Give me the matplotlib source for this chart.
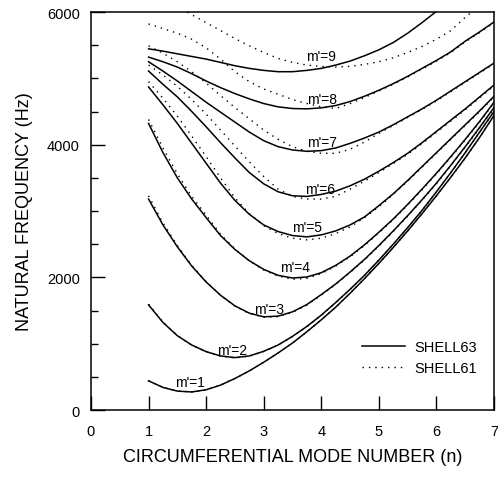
import matplotlib
matplotlib.use('Agg')
import matplotlib.pyplot as plt
from matplotlib.ticker import MultipleLocator

plt.rcParams['font.family'] = ['Liberation Sans', 'DejaVu Sans']

# circumferential mode number (n), read every quarter step
n = [1, 1.25, 1.5, 1.75, 2, 2.25, 2.5, 2.75, 3, 3.25, 3.5, 3.75, 4,
     4.25, 4.5, 4.75, 5, 5.25, 5.5, 5.75, 6, 6.25, 6.5, 6.75, 7]

# SHELL63 (solid) natural frequency, Hz
s63_m1 = [440, 340, 285, 272, 305, 375, 475, 590, 720, 860, 1010, 1180, 1360,
          1550, 1760, 1980, 2210, 2450, 2700, 2960, 3230, 3510, 3800, 4110, 4440]
s63_m2 = [1585, 1320, 1120, 980, 880, 815, 790, 815, 885, 980, 1110, 1260, 1430,
          1620, 1820, 2030, 2260, 2500, 2750, 3010, 3290, 3580, 3880, 4190, 4500]
s63_m3 = [3180, 2790, 2460, 2170, 1930, 1730, 1570, 1460, 1405, 1415, 1480, 1590, 1740,
          1900, 2080, 2270, 2480, 2700, 2930, 3170, 3420, 3690, 3970, 4260, 4560]
s63_m4 = [4320, 3880, 3500, 3180, 2900, 2630, 2420, 2250, 2120, 2030, 1990, 2005, 2070,
          2180, 2320, 2490, 2680, 2880, 3100, 3330, 3570, 3820, 4080, 4350, 4640]
s63_m5 = [4870, 4600, 4320, 4020, 3720, 3420, 3160, 2950, 2790, 2690, 2630, 2610, 2640,
          2700, 2790, 2910, 3080, 3260, 3460, 3670, 3880, 4090, 4300, 4510, 4730]
s63_m6 = [5110, 4910, 4720, 4500, 4270, 4030, 3800, 3580, 3410, 3290, 3230, 3220, 3250,
          3300, 3380, 3480, 3600, 3730, 3870, 4030, 4200, 4370, 4540, 4720, 4900]
s63_m7 = [5250, 5110, 4960, 4800, 4640, 4490, 4340, 4190, 4060, 3970, 3920, 3900, 3910,
          3950, 4020, 4100, 4190, 4300, 4420, 4540, 4670, 4810, 4950, 5090, 5230]
s63_m8 = [5320, 5250, 5170, 5070, 4960, 4860, 4770, 4690, 4620, 4570, 4545, 4540, 4555,
          4590, 4650, 4730, 4820, 4920, 5030, 5150, 5270, 5400, 5560, 5700, 5850]
s63_m9 = [5445, 5410, 5370, 5330, 5290, 5240, 5190, 5150, 5120, 5100, 5100, 5120, 5150,
          5200, 5260, 5340, 5430, 5540, 5680, 5840, 6010, 6180]

# SHELL61 (dotted)
s61_m1 = [440, 342, 286, 272, 305, 376, 476, 590, 720, 860, 1010, 1180, 1360,
          1550, 1760, 1980, 2210, 2450, 2700, 2960, 3230, 3510, 3800, 4110, 4440]
s61_m2 = [1595, 1325, 1120, 978, 878, 812, 786, 812, 882, 978, 1108, 1258, 1428,
          1618, 1818, 2028, 2258, 2498, 2748, 3008, 3288, 3578, 3878, 4188, 4500]
s61_m3 = [3230, 2820, 2480, 2180, 1935, 1730, 1565, 1455, 1398, 1408, 1472, 1582, 1732,
          1892, 2072, 2262, 2472, 2692, 2922, 3162, 3412, 3682, 3962, 4252, 4550]
s61_m4 = [4380, 3950, 3560, 3220, 2940, 2650, 2430, 2250, 2110, 2020, 1970, 1985, 2055,
          2170, 2310, 2480, 2670, 2870, 3090, 3320, 3560, 3810, 4070, 4340, 4630]
s61_m5 = [4950, 4700, 4430, 4130, 3820, 3500, 3200, 2960, 2780, 2660, 2590, 2565, 2590,
          2660, 2760, 2900, 3065, 3250, 3450, 3660, 3870, 4080, 4290, 4500, 4720]
s61_m6 = [5200, 5050, 4880, 4680, 4460, 4220, 3980, 3740, 3520, 3330, 3220, 3180, 3180,
          3220, 3330, 3450, 3580, 3715, 3855, 4015, 4185, 4355, 4525, 4705, 4885]
s61_m7 = [5490, 5380, 5250, 5100, 4930, 4740, 4560, 4390, 4220, 4080, 3970, 3900, 3870,
          3870, 3930, 4040, 4170, 4290, 4410, 4530, 4660, 4800, 4940, 5080, 5220]
s61_m8 = [5820, 5750, 5680, 5590, 5460, 5290, 5100, 4950, 4840, 4760, 4680, 4620, 4570,
          4545, 4620, 4710, 4810, 4910, 5020, 5140, 5260, 5390, 5550, 5690, 5840]
s61_m9 = [6350, 6220, 6090, 5960, 5840, 5720, 5600, 5490, 5390, 5300, 5240, 5200, 5180,
          5170, 5180, 5210, 5250, 5310, 5390, 5480, 5590, 5720, 5920, 6100]

shell63 = [s63_m1, s63_m2, s63_m3, s63_m4, s63_m5, s63_m6, s63_m7, s63_m8, s63_m9]
shell61 = [s61_m1, s61_m2, s61_m3, s61_m4, s61_m5, s61_m6, s61_m7, s61_m8, s61_m9]

# label positions for m'
label_n = [1.72, 2.45, 3.1, 3.54, 3.75, 3.98, 4.02, 4.02, 4.0]
label_f = [420, 905, 1520, 2155, 2760, 3330, 4040, 4690, 5340]

fig = plt.figure(figsize=(4.98, 4.89), dpi=100)
ax = fig.add_axes([0.1827, 0.1595, 0.8093, 0.8139])

dots = (0, (1.0, 3.6))
for vals in shell63:
    ax.plot(n[:len(vals)], vals, color='black', lw=1.1)
for vals in shell61:
    ax.plot(n[:len(vals)], vals, color='black', lw=1.0, linestyle=dots)

for m in range(1, 10):
    ax.text(label_n[m - 1], label_f[m - 1], "m'=%d" % m, fontsize=10,
            ha='center', va='center')

# legend handles
ax.plot([], [], color='black', lw=1.1, label='SHELL63')
ax.plot([], [], color='black', lw=1.0, linestyle=dots, label='SHELL61')
ax.legend(loc='lower right', bbox_to_anchor=(0.99, 0.055), frameon=False,
          fontsize=10.5, handlelength=3.0, handletextpad=0.6,
          labelspacing=0.45)

ax.set_xlim(0, 7)
ax.set_ylim(0, 6000)
ax.set_xticks(range(0, 8))
ax.yaxis.set_major_locator(MultipleLocator(2000))
ax.yaxis.set_minor_locator(MultipleLocator(500))
ax.tick_params(axis='both', which='major', direction='in', length=10,
               width=1.0, labelsize=10.5)
ax.tick_params(axis='y', which='minor', direction='in', length=5, width=1.0)
ax.tick_params(axis='x', pad=10)
ax.tick_params(axis='y', pad=8)
for s in ax.spines.values():
    s.set_linewidth(1.1)

ax.set_xlabel('CIRCUMFERENTIAL MODE NUMBER (n)', fontsize=13, labelpad=7)
ax.set_ylabel('NATURAL FREQUENCY (Hz)', fontsize=13, labelpad=10)

fig.savefig('out.png', dpi=100)
